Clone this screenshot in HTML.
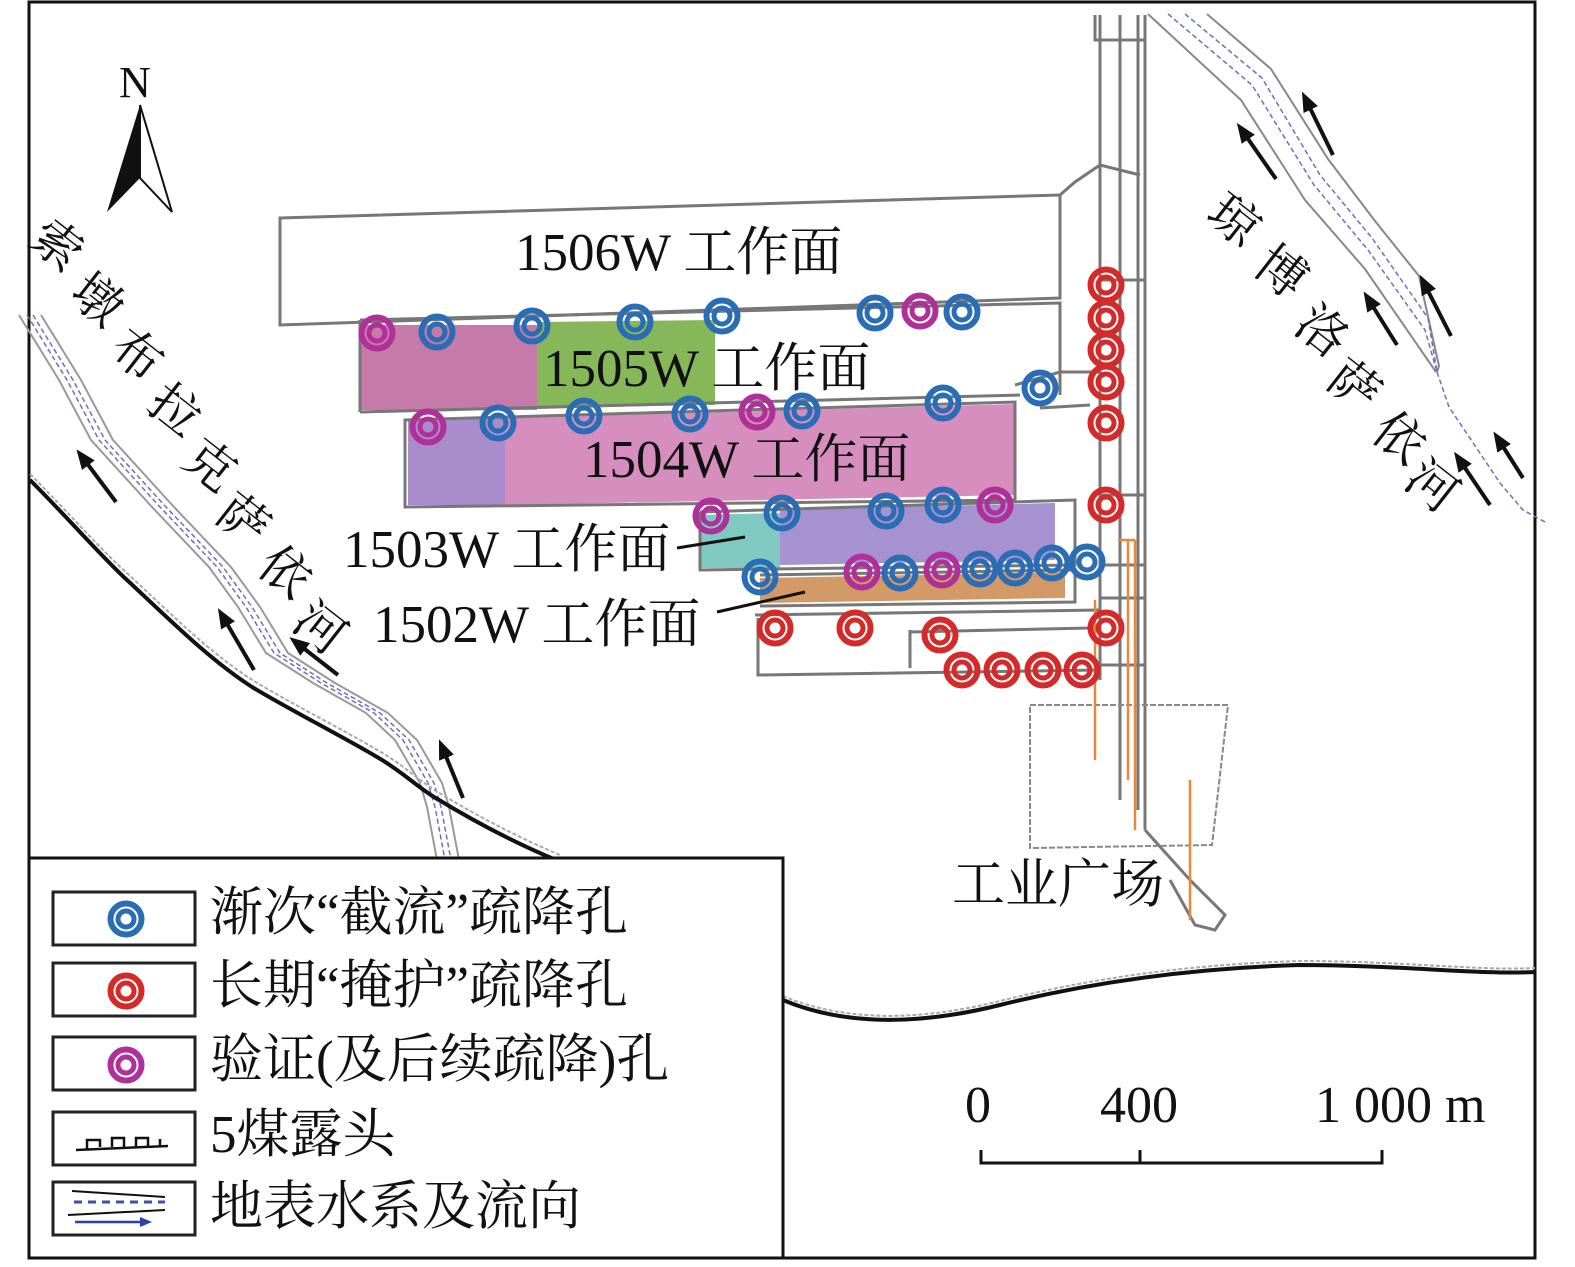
<!DOCTYPE html>
<html><head><meta charset="utf-8"><style>
html,body{margin:0;padding:0;background:#fff}
svg{display:block}
text{font-family:"Liberation Serif","Noto Serif CJK SC",serif;fill:#111}
</style></head><body>
<svg width="1575" height="1267" viewBox="0 0 1575 1267" xmlns="http://www.w3.org/2000/svg" xmlns:xlink="http://www.w3.org/1999/xlink">
<defs>
<g id="b"><circle r="15.5" fill="none" stroke="#2a6db5" stroke-width="6"/><circle r="8" fill="none" stroke="#2a6db5" stroke-width="5"/></g>
<g id="r"><circle r="15.5" fill="none" stroke="#d42a2a" stroke-width="6"/><circle r="8" fill="none" stroke="#d42a2a" stroke-width="5"/></g>
<g id="m"><circle r="15.5" fill="none" stroke="#b0309a" stroke-width="6"/><circle r="8" fill="none" stroke="#b0309a" stroke-width="5"/></g>
<marker id="ah" markerWidth="20" markerHeight="16" refX="4" refY="8" orient="auto" markerUnits="userSpaceOnUse" viewBox="0 0 20 16"><path d="M0,0 L20,8 L0,16 z" fill="#111"/></marker>
<path id="lr" d="M30,315 L70,380 L102,440 L163,507 L220,567 L249,607 L277,653 L324,683 L377,713 L406,740 L431,783 L438,807 L448,860"/>
</defs>
<rect x="0" y="0" width="1575" height="1267" fill="#fff"/>
<path d="M29,2 H1535 V1258 H29 Z" fill="none" stroke="#111" stroke-width="3"/>

<!-- left river -->
<g fill="none">
<use href="#lr" x="-11" stroke="#999" stroke-width="2"/>
<use href="#lr" x="11" stroke="#999" stroke-width="2"/>
<use href="#lr" x="-3" stroke="#6a6fc4" stroke-width="1.5" stroke-dasharray="5,3"/>
<use href="#lr" x="3" stroke="#6a6fc4" stroke-width="1.5" stroke-dasharray="5,3"/>
</g>
<!-- right river -->
<g fill="none">
<path d="M1148,14 L1241,100 L1305,200 L1365,269 L1436,372" stroke="#888" stroke-width="2"/>
<path d="M1207,14 L1271,69 L1328,159 L1375,221 L1419,276 L1439,366 L1437,372" stroke="#888" stroke-width="2"/>
<path d="M1168,14 L1252,85 L1314,185 L1368,250 L1425,330 L1437,372" stroke="#6a6fc4" stroke-width="1.5" stroke-dasharray="5,3"/>
<path d="M1185,14 L1262,78 L1320,175 L1372,238 L1428,318 L1437,372" stroke="#6a6fc4" stroke-width="1.5" stroke-dasharray="5,3"/>
<path d="M1437,372 L1449,407 L1500,483 L1523,510 L1545,522" stroke="#6a6fc4" stroke-width="1.5" stroke-dasharray="5,3"/>
</g>
<!-- outcrop -->
<path d="M30,480 C70,520 100,555 127,580 C170,620 210,660 252,687 C290,710 340,735 377,757 C400,770 415,785 434,797 C480,825 520,845 556,860" fill="none" stroke="#111" stroke-width="4"/>
<path d="M30,474 C70,514 100,549 128,574 C171,614 211,654 254,681 C292,704 342,729 379,751 C402,764 417,779 436,791 C482,819 522,839 560,855" fill="none" stroke="#aaa" stroke-width="2" stroke-dasharray="4,2"/>
<path d="M783,1000 C830,1020 900,1030 1000,1005 C1100,980 1200,968 1300,965 C1400,965 1480,975 1535,972" fill="none" stroke="#111" stroke-width="4"/>
<path d="M783,996 C830,1016 900,1026 1000,1001 C1100,976 1200,964 1300,961 C1400,961 1480,971 1535,968" fill="none" stroke="#aaa" stroke-width="2" stroke-dasharray="4,2"/>

<!-- flow arrows -->
<g stroke="#111" stroke-width="4" marker-end="url(#ah)">
<line x1="116" y1="502" x2="86" y2="462"/>
<line x1="254" y1="670" x2="226" y2="622"/>
<line x1="338" y1="675" x2="302" y2="647"/>
<line x1="463" y1="798" x2="445" y2="754"/>
<line x1="1276" y1="179" x2="1246" y2="136"/>
<line x1="1333" y1="155" x2="1309" y2="106"/>
<line x1="1397" y1="345" x2="1372" y2="305"/>
<line x1="1451" y1="336" x2="1427" y2="289"/>
<line x1="1490" y1="505" x2="1463" y2="465"/>
<line x1="1523" y1="478" x2="1502" y2="445"/>
</g>

<!-- north arrow -->
<polygon points="140,105 107,212 140,178" fill="#111"/>
<polygon points="140,105 172,212 140,178" fill="#fff" stroke="#111" stroke-width="2"/>
<text x="119" y="97" font-size="44">N</text>

<!-- panels -->
<polygon points="360,325 537,325 537,410 360,410" fill="#c67aa9"/>
<polygon points="537,322 715,320 715,405 537,408" fill="#86b85a"/>
<polygon points="408,420 505,418 505,505 408,505" fill="#a88ccb"/>
<polygon points="505,418 1015,404 1015,495 505,505" fill="#d58ebd"/>
<polygon points="700,515 780,513 780,568 700,568" fill="#7fc9c0"/>
<polygon points="780,510 1055,503 1055,560 780,565" fill="#a691d1"/>
<polygon points="760,578 1065,572 1065,598 760,603" fill="#d39966"/>
<g fill="none" stroke="#777" stroke-width="3">
<polygon points="280,218 1060,195 1060,298 280,325"/>
<polyline points="360,320 1060,303 1060,395"/>
<line x1="360" y1="320" x2="360" y2="412"/>
<line x1="360" y1="412" x2="1020" y2="395"/>
<polygon points="405,420 1015,402 1015,500 405,507"/>
<polyline points="700,512 1075,500 1075,565 700,570 700,512"/>
<polyline points="760,575 1075,570 1075,602 760,606"/>
<polyline points="755,615 1100,610"/>
<polyline points="758,618 758,675 1100,670"/>
<polyline points="910,630 910,668"/>
<polyline points="910,632 1090,628"/>
<polyline points="1015,385 1060,372 1100,372"/>
<polyline points="1040,408 1090,405"/>
</g>
<g fill="none" stroke="#777" stroke-width="3">
<line x1="1100" y1="15" x2="1100" y2="680"/>
<line x1="1120" y1="15" x2="1120" y2="800"/>
<line x1="1138" y1="15" x2="1138" y2="810"/>
<line x1="1145" y1="15" x2="1145" y2="830"/>
<polyline points="1095,15 1095,40 1145,40"/>
<polyline points="1060,195 1075,182 1100,165 1140,175"/>
<line x1="1100" y1="280" x2="1145" y2="280"/>
<line x1="1100" y1="495" x2="1145" y2="495"/>
<line x1="1100" y1="565" x2="1145" y2="565"/>
<line x1="1100" y1="598" x2="1145" y2="598"/>
<line x1="1100" y1="665" x2="1145" y2="665"/>
<polyline points="1145,830 1190,880 1225,915 1215,930 1195,925 1170,880"/>
</g>
<polygon points="1030,705 1228,705 1212,845 1030,848" fill="none" stroke="#888" stroke-width="2" stroke-dasharray="6,2"/>
<g stroke="#e8883a" stroke-width="2.5" fill="none">
<line x1="1095" y1="600" x2="1095" y2="760"/>
<line x1="1128" y1="540" x2="1128" y2="780"/>
<line x1="1135" y1="540" x2="1135" y2="830"/>
<line x1="1190" y1="780" x2="1190" y2="920"/>
<line x1="1118" y1="540" x2="1135" y2="540"/>
</g>

<!-- holes -->
<use href="#m" x="377" y="333"/><use href="#b" x="437" y="332"/><use href="#b" x="532" y="326"/><use href="#b" x="635" y="322"/><use href="#b" x="722" y="316"/>
<use href="#b" x="875" y="313"/><use href="#m" x="920" y="311"/><use href="#b" x="962" y="312"/>
<use href="#m" x="428" y="427"/><use href="#b" x="498" y="423"/><use href="#b" x="584" y="416"/><use href="#b" x="690" y="414"/><use href="#m" x="757" y="412"/><use href="#b" x="802" y="411"/><use href="#b" x="943" y="403"/><use href="#b" x="1040" y="388"/>
<use href="#m" x="711" y="516"/><use href="#b" x="782" y="513"/><use href="#b" x="886" y="511"/><use href="#b" x="943" y="505"/><use href="#m" x="995" y="505"/>
<use href="#b" x="760" y="577"/><use href="#m" x="862" y="572"/><use href="#b" x="900" y="573"/><use href="#m" x="942" y="570"/><use href="#b" x="980" y="569"/><use href="#b" x="1015" y="568"/><use href="#b" x="1052" y="563"/><use href="#b" x="1087" y="562"/>
<use href="#r" x="1106" y="285"/><use href="#r" x="1106" y="318"/><use href="#r" x="1106" y="350"/><use href="#r" x="1106" y="382"/><use href="#r" x="1106" y="423"/><use href="#r" x="1106" y="505"/><use href="#r" x="1106" y="628"/>
<use href="#r" x="775" y="628"/><use href="#r" x="855" y="628"/><use href="#r" x="940" y="635"/>
<use href="#r" x="962" y="670"/><use href="#r" x="1002" y="670"/><use href="#r" x="1043" y="670"/><use href="#r" x="1082" y="670"/>

<!-- labels -->
<g font-size="53">
<text x="515" y="270">1506W 工作面</text>
<text x="543" y="386">1505W 工作面</text>
<text x="583" y="477">1504W 工作面</text>
<text x="343" y="567">1503W 工作面</text>
<text x="373" y="642">1502W 工作面</text>
<text x="952" y="902">工业广场</text>
</g>
<line x1="677" y1="548" x2="745" y2="537" stroke="#111" stroke-width="3"/>
<line x1="717" y1="612" x2="805" y2="592" stroke="#111" stroke-width="3"/>

<g font-size="50" text-anchor="middle" dominant-baseline="central">
<text transform="translate(57,245) rotate(38)">索</text>
<text transform="translate(97,300) rotate(38)">墩</text>
<text transform="translate(137,355) rotate(38)">布</text>
<text transform="translate(175,410) rotate(38)">拉</text>
<text transform="translate(210,465) rotate(38)">克</text>
<text transform="translate(243,520) rotate(38)">萨</text>
<text transform="translate(285,572) rotate(38)">依</text>
<text transform="translate(320,628) rotate(38)">河</text>
<text transform="translate(1234,220) rotate(38)">琼</text>
<text transform="translate(1281,272) rotate(38)">博</text>
<text transform="translate(1322,331) rotate(38)">洛</text>
<text transform="translate(1354,386) rotate(38)">萨</text>
<text transform="translate(1399,438) rotate(38)">依</text>
<text transform="translate(1432,486) rotate(38)">河</text>
</g>

<!-- scale -->
<text x="965" y="1122" font-size="52">0</text>
<text x="1100" y="1122" font-size="52">400</text>
<text x="1315" y="1122" font-size="52">1 000 m</text>
<polyline points="981,1150 981,1163 1382,1163 1382,1150" fill="none" stroke="#111" stroke-width="3"/>
<line x1="1140" y1="1150" x2="1140" y2="1163" stroke="#111" stroke-width="3"/>

<!-- legend -->
<rect x="29" y="858" width="754" height="400" fill="#fff" stroke="#111" stroke-width="3"/>
<g fill="#fff" stroke="#222" stroke-width="3">
<rect x="53" y="892" width="142" height="53"/>
<rect x="53" y="963" width="142" height="53"/>
<rect x="53" y="1037" width="142" height="53"/>
<rect x="53" y="1112" width="142" height="53"/>
<rect x="53" y="1182" width="142" height="53"/>
</g>
<use href="#b" x="126" y="919"/><use href="#r" x="126" y="991"/><use href="#m" x="126" y="1065"/>
<path d="M76,1150 L168,1146 M87,1149 V1140 H100 V1147 M112,1147 V1138 H124 V1147 M136,1147 V1138 H148 V1147 M160,1146 V1139" fill="none" stroke="#111" stroke-width="2.5"/>
<path d="M72,1191 L165,1197 M68,1215 L165,1210" stroke="#111" stroke-width="2"/>
<path d="M74,1202 H165" stroke="#3a4fb0" stroke-width="3" stroke-dasharray="8,6"/>
<line x1="75" y1="1222" x2="140" y2="1222" stroke="#2a3fb0" stroke-width="2.5"/>
<polygon points="140,1217 152,1222 140,1227" fill="#2a3fb0"/>
<g font-size="53">
<text x="210" y="930">渐次“截流”疏降孔</text>
<text x="210" y="1003">长期“掩护”疏降孔</text>
<text x="210" y="1077">验证(及后续疏降)孔</text>
<text x="210" y="1152">5煤露头</text>
<text x="210" y="1224">地表水系及流向</text>
</g>
</svg>
</body></html>
